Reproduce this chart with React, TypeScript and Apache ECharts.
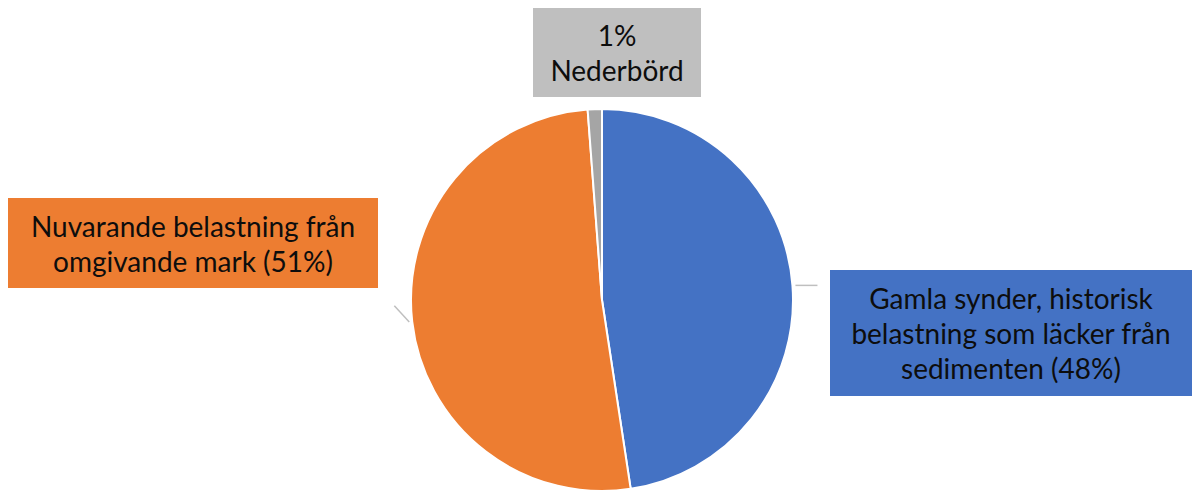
import React, { useEffect, useRef } from "react";
import * as echarts from "echarts";

const categories = [
  "Gamla synder, historisk belastning som läcker från sedimenten",
  "Nuvarande belastning från omgivande mark",
  "Nederbörd",
];
const values = [47.6, 51.2, 1.2];
const colors = ["#4472C4", "#ED7D31", "#A5A5A5"];
const labelBg = ["#4472C4", "#ED7D31", "#BFBFBF"];

// label boxes: [left, top, width, height]
const boxes = [
  [830, 270, 362, 126],
  [8, 198, 370, 90],
  [533, 8, 168, 89],
];
const showLeader = [true, true, false];
const LINE_H = 35;
const CENTER = [602, 300];
const RADIUS = 191;

function labelText(i: number, pct: number) {
  const p = Math.round(pct);
  if (i === 0) return `Gamla synder, historisk\nbelastning som läcker från\nsedimenten (${p}%)`;
  if (i === 1) return `Nuvarande belastning från\nomgivande mark (${p}%)`;
  return `${p}%\nNederbörd`;
}

function leaderLines() {
  const total = values.reduce((a, b) => a + b, 0);
  let cum = 0;
  const out: any[] = [];
  values.forEach((v, i) => {
    const mid = ((cum + v / 2) / total) * Math.PI * 2;
    cum += v;
    if (!showLeader[i]) return;
    const sx = CENTER[0] + (RADIUS + 3) * Math.sin(mid);
    const sy = CENTER[1] - (RADIUS + 3) * Math.cos(mid);
    const b = boxes[i];
    const tx = Math.min(Math.max(sx, b[0]), b[0] + b[2]);
    const ty = Math.min(Math.max(sy, b[1]), b[1] + b[3]);
    const dx = tx - sx;
    const dy = ty - sy;
    const len = Math.hypot(dx, dy) || 1;
    const L = 22;
    out.push({
      type: "line",
      shape: { x1: sx, y1: sy, x2: sx + (dx / len) * L, y2: sy + (dy / len) * L },
      style: { stroke: "#BFBFBF", lineWidth: 1.5 },
      silent: true,
    });
  });
  return out;
}

export default function App() {
  const ref = useRef<HTMLDivElement>(null);
  useEffect(() => {
    document.body.style.margin = "0";
    const chart = echarts.init(ref.current!, undefined, { renderer: "svg" });
    const data = categories.map((name, i) => {
      const nLines = labelText(i, values[i]).split("\n").length;
      const b = boxes[i];
      const padV = (b[3] - nLines * LINE_H) / 2;
      return {
        name,
        value: values[i],
        itemStyle: { color: colors[i] },
        label: {
          backgroundColor: labelBg[i],
          width: b[2],
          padding: [padV, 0, padV, 0],
        },
      };
    });
    chart.setOption({
      animation: false,
      backgroundColor: "#ffffff",
      graphic: leaderLines(),
      series: [
        {
          type: "pie",
          center: CENTER,
          radius: RADIUS,
          startAngle: 90,
          clockwise: true,
          data,
          itemStyle: { borderColor: "#ffffff", borderWidth: 2 },
          label: {
            show: true,
            position: "outside",
            formatter: (p: any) => labelText(p.dataIndex, p.percent),
            fontFamily: "Lato",
            fontSize: 28,
            lineHeight: LINE_H,
            color: "#0d0d0d",
            align: "center",
          },
          labelLine: { show: false },
          labelLayout: (params: any) => {
            const b = boxes[params.dataIndex];
            return {
              x: b[0] + b[2] / 2,
              y: b[1] + b[3] / 2,
              align: "center",
              verticalAlign: "middle",
            };
          },
        },
      ],
    });
    return () => chart.dispose();
  }, []);
  return <div ref={ref} style={{ width: 1193, height: 491 }} />;
}
